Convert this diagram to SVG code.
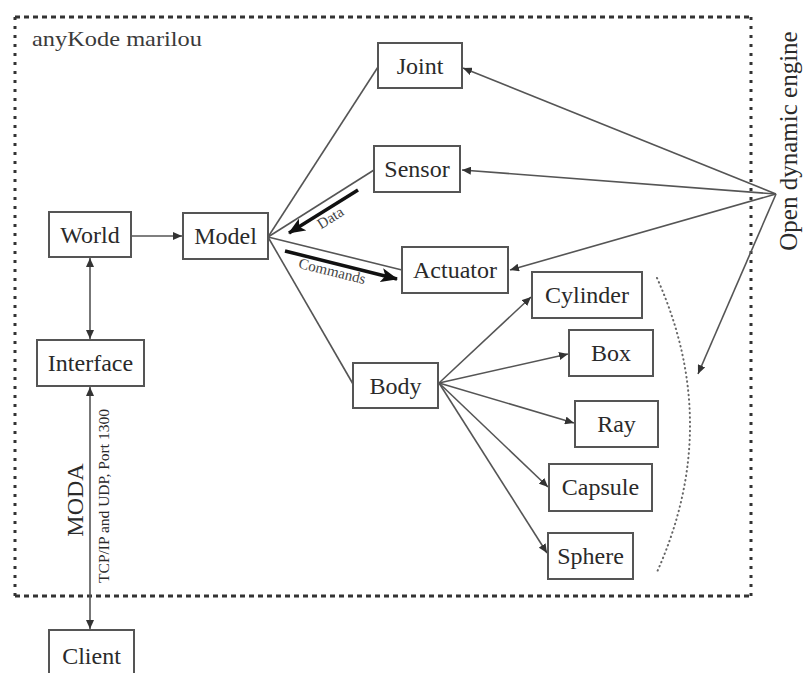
<svg xmlns="http://www.w3.org/2000/svg" width="803" height="673" viewBox="0 0 803 673">
<style>
.box{fill:#fff;stroke:#555;stroke-width:2}
.lbl{font-family:"Liberation Serif","Times New Roman",serif;font-size:24px;fill:#2a2a2a;text-anchor:middle}
.title{font-family:"Liberation Serif","Times New Roman",serif;font-size:22px;fill:#3a3a3a}
.ln{stroke:#555;stroke-width:1.6;fill:none}
.thick{stroke:#111;stroke-width:3.5;fill:none}
.small{font-family:"Liberation Serif","Times New Roman",serif;font-size:15px;fill:#444;text-anchor:middle}
</style>
<defs>
<marker id="ah" markerUnits="userSpaceOnUse" markerWidth="10" markerHeight="8" refX="9" refY="4" orient="auto">
<path d="M0,0 L9,4 L0,8 z" fill="#333"/>
</marker>
<marker id="ahs" markerUnits="userSpaceOnUse" markerWidth="10" markerHeight="8" refX="9" refY="4" orient="auto-start-reverse">
<path d="M0,0 L9,4 L0,8 z" fill="#333"/>
</marker>
<marker id="big" markerUnits="userSpaceOnUse" markerWidth="18" markerHeight="14" refX="16" refY="7" orient="auto">
<path d="M0,0 L17,7 L0,14 L4,7 z" fill="#111"/>
</marker>
</defs>
<rect width="803" height="673" fill="#fff"/>
<g id="frame" stroke="#333" stroke-width="3" fill="none">
<line x1="15" y1="17" x2="751" y2="17" stroke-dasharray="5,4"/>
<line x1="15" y1="596" x2="751" y2="596" stroke-dasharray="5,4"/>
<line x1="15" y1="17" x2="15" y2="596" stroke-dasharray="3,6"/>
<line x1="751" y1="17" x2="751" y2="596" stroke-dasharray="3,6"/>
</g>
<text x="32" y="46" class="title" textLength="170" lengthAdjust="spacingAndGlyphs">anyKode marilou</text>
<text transform="translate(797,141) rotate(-90)" class="lbl" style="font-size:25px">Open dynamic engine</text>
<text transform="translate(83,500) rotate(-90)" class="lbl">MODA</text>
<text transform="translate(109,496) rotate(-90)" class="lbl" style="font-size:15.5px">TCP/IP and UDP, Port 1300</text>
<g id="connectors">
<line class="ln" x1="131" y1="236" x2="182" y2="236" marker-end="url(#ah)"/>
<line class="ln" x1="90" y1="258" x2="90" y2="339" marker-start="url(#ahs)" marker-end="url(#ah)"/>
<line class="ln" x1="90" y1="387" x2="90" y2="629" marker-start="url(#ahs)" marker-end="url(#ah)"/>
<line class="ln" x1="268" y1="237" x2="378" y2="67"/>
<line class="ln" x1="268" y1="237" x2="374" y2="170"/>
<line class="ln" x1="268" y1="237" x2="402" y2="270"/>
<line class="ln" x1="268" y1="237" x2="353" y2="384"/>
<line class="thick" x1="358" y1="190" x2="289" y2="233" marker-end="url(#big)"/>
<line class="thick" x1="285" y1="251" x2="397" y2="279" marker-end="url(#big)"/>
<line class="ln" x1="776" y1="194" x2="463" y2="68" marker-end="url(#ah)"/>
<line class="ln" x1="776" y1="194" x2="462" y2="170" marker-end="url(#ah)"/>
<line class="ln" x1="776" y1="194" x2="510" y2="270" marker-end="url(#ah)"/>
<line class="ln" x1="776" y1="194" x2="698" y2="374" marker-end="url(#ah)"/>
<line class="ln" x1="439" y1="383" x2="531" y2="297" marker-end="url(#ah)"/>
<line class="ln" x1="439" y1="383" x2="568" y2="354" marker-end="url(#ah)"/>
<line class="ln" x1="439" y1="383" x2="574" y2="423" marker-end="url(#ah)"/>
<line class="ln" x1="439" y1="383" x2="548" y2="487" marker-end="url(#ah)"/>
<line class="ln" x1="439" y1="383" x2="547" y2="553" marker-end="url(#ah)"/>
<path d="M657,278 Q723,425 657,572" fill="none" stroke="#666" stroke-width="2" stroke-dasharray="0.5,4" stroke-linecap="round"/>
<text class="small" transform="translate(333,222) rotate(-32)">Data</text>
<text class="small" transform="translate(331,276) rotate(14)">Commands</text>
</g>
<g id="world"><rect class="box" x="49" y="212" width="82" height="45"/><text class="lbl" x="90" y="243">World</text></g>
<g id="model"><rect class="box" x="183" y="213" width="85" height="46"/><text class="lbl" x="225.5" y="244">Model</text></g>
<g id="interface"><rect class="box" x="37" y="340" width="107" height="46"/><text class="lbl" x="90.5" y="371">Interface</text></g>
<g id="client"><rect class="box" x="49" y="630" width="85" height="50"/><text class="lbl" x="91.5" y="664">Client</text></g>
<g id="joint"><rect class="box" x="378" y="43" width="84" height="45"/><text class="lbl" x="420" y="74">Joint</text></g>
<g id="sensor"><rect class="box" x="374" y="146" width="86" height="46"/><text class="lbl" x="417" y="177">Sensor</text></g>
<g id="actuator"><rect class="box" x="402" y="247" width="106" height="46"/><text class="lbl" x="455" y="278">Actuator</text></g>
<g id="body"><rect class="box" x="353" y="363" width="85" height="45"/><text class="lbl" x="395.5" y="394">Body</text></g>
<g id="cylinder"><rect class="box" x="532" y="272" width="110" height="46"/><text class="lbl" x="587" y="303">Cylinder</text></g>
<g id="boxnode"><rect class="box" x="569" y="330" width="84" height="46"/><text class="lbl" x="611" y="361">Box</text></g>
<g id="ray"><rect class="box" x="575" y="401" width="83" height="46"/><text class="lbl" x="616.5" y="432">Ray</text></g>
<g id="capsule"><rect class="box" x="549" y="464" width="103" height="47"/><text class="lbl" x="600.5" y="495">Capsule</text></g>
<g id="sphere"><rect class="box" x="548" y="533" width="85" height="46"/><text class="lbl" x="590.5" y="564">Sphere</text></g>
</svg>
